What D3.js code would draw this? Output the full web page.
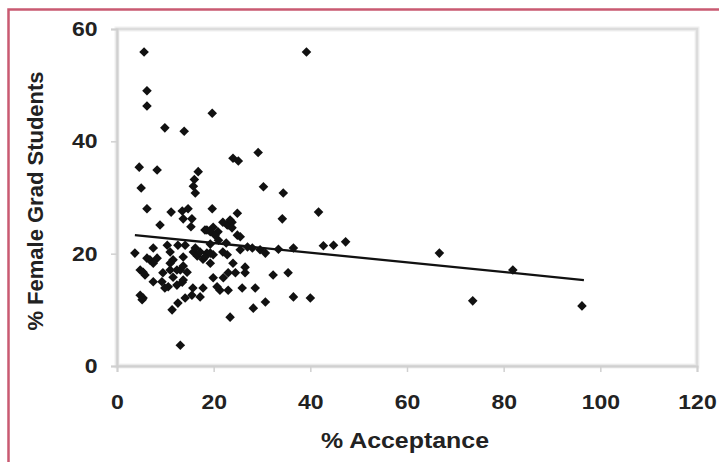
<!DOCTYPE html>
<html>
<head>
<meta charset="utf-8">
<script src="https://cdn.jsdelivr.net/npm/d3@7"></script>
<style>
  body { margin: 0; background: #fff; }
  svg { display: block; }
  .tick text { font-family: "Liberation Sans", Arial, sans-serif; font-weight: bold; font-size: 20px; fill: #222; }
  .title { font-family: "Liberation Sans", Arial, sans-serif; font-weight: bold; font-size: 22px; fill: #222; }
</style>
</head>
<body>
<div id="chart"></div>
<script>
// % acceptance (x) and % female grad students (y)
var acceptance = [5.6, 39.2, 6.2, 6.2, 9.9, 13.9, 19.7, 24.0, 25.1, 29.2,
  4.6, 8.3, 16.8, 16.0, 15.8, 16.2, 5.0, 30.3, 34.4, 6.2,
  11.2, 19.7, 24.9, 41.7, 34.2, 8.9, 13.5, 14.7, 13.7, 15.5,
  23.8, 23.0, 15.3, 18.2, 19.9, 20.9, 22.8, 23.8, 24.9, 25.5,
  21.9, 23.4, 3.7, 7.5, 6.2, 6.8, 8.3, 7.5, 11.0, 12.6,
  14.1, 10.4, 11.6, 13.7, 15.8, 16.6, 17.8, 19.3, 18.6, 19.9,
  16.2, 17.2, 18.2, 19.3, 21.9, 22.8, 25.5, 28.0, 29.6, 30.7,
  33.4, 36.5, 42.7, 44.8, 47.3, 66.7, 21.0, 22.6, 19.3, 20.3,
  18.6, 4.8, 5.8, 9.5, 11.0, 13.1, 7.5, 9.3, 10.6, 12.4,
  13.7, 4.8, 5.2, 11.4, 12.6, 14.1, 15.5, 17.2, 13.1, 23.4,
  21.3, 23.0, 20.7, 25.9, 28.6, 28.2, 30.7, 32.3, 35.4, 36.5,
  40.0, 26.5, 26.5, 24.0, 23.0, 22.0, 19.9, 11.0, 12.4, 11.6,
  13.7, 14.5, 13.5, 15.7, 17.8, 73.6, 81.9, 96.2, 9.9, 5.4,
  5.4, 24.5, 19.3, 27.0];
var female = [55.9, 55.9, 49.0, 46.3, 42.4, 41.8, 45.0, 37.0, 36.5, 38.0,
  35.4, 34.9, 34.6, 33.2, 32.0, 30.8, 31.7, 31.9, 30.8, 28.0,
  27.4, 28.0, 27.2, 27.4, 26.2, 25.1, 27.6, 28.0, 26.2, 26.2,
  25.6, 25.1, 24.8, 24.2, 24.7, 23.9, 25.1, 24.6, 23.3, 23.0,
  25.6, 26.0, 20.1, 21.0, 19.2, 18.9, 19.2, 18.3, 20.3, 21.5,
  21.5, 21.5, 18.9, 19.4, 20.3, 19.6, 19.0, 18.3, 20.1, 19.8,
  21.0, 20.3, 19.4, 20.1, 20.3, 19.8, 20.7, 21.0, 20.7, 20.1,
  20.8, 21.0, 21.4, 21.5, 22.1, 20.1, 22.4, 21.9, 23.9, 23.3,
  24.2, 17.1, 16.2, 16.6, 17.1, 17.1, 15.0, 15.0, 14.1, 14.4,
  15.3, 12.6, 11.8, 10.0, 11.2, 12.1, 12.6, 12.3, 3.7, 8.7,
  13.5, 13.5, 14.1, 13.9, 13.9, 10.3, 11.4, 16.2, 16.6, 12.3,
  12.1, 17.6, 16.6, 18.3, 16.6, 15.7, 15.7, 18.3, 17.1, 15.8,
  17.8, 16.7, 14.9, 13.9, 13.9, 11.6, 17.1, 10.7, 13.9, 12.1,
  16.7, 16.6, 21.7, 21.2];

// linear trend line: range of x and fitted coefficients
var trendX = [3.7, 96.6];
var trendIntercept = 23.62;
var trendSlope = -0.0861;

var xTicks = [0, 20, 40, 60, 80, 100, 120];
var yTicks = [0, 20, 40, 60];

var svgWidth = 719;
var svgHeight = 462;

var svg = d3.select("#chart")
  .append("svg")
  .attr("width", svgWidth)
  .attr("height", svgHeight);

svg.append("rect")
  .attr("width", svgWidth)
  .attr("height", svgHeight)
  .attr("fill", "#fff");

// pink frame round the figure (top and left only)
svg.append("path")
  .attr("d", "M8.5," + svgHeight + "V9.5H" + svgWidth)
  .attr("fill", "none")
  .attr("stroke", "#c95a71")
  .attr("stroke-width", 2.5);

var x = d3.scaleLinear().domain([0, 120]).range([117, 697]);
var y = d3.scaleLinear().domain([0, 60]).range([366, 29]);

// plot area border
svg.append("rect")
  .attr("x", x(0))
  .attr("y", y(60))
  .attr("width", x(120) - x(0))
  .attr("height", y(0) - y(60))
  .attr("fill", "none")
  .attr("stroke", "#f0f0f0")
  .attr("stroke-width", 5);
svg.append("rect")
  .attr("x", x(0))
  .attr("y", y(60))
  .attr("width", x(120) - x(0))
  .attr("height", y(0) - y(60))
  .attr("fill", "none")
  .attr("stroke", "#dcdcdc")
  .attr("stroke-width", 2.5);

var xAxis = svg.append("g")
  .attr("transform", "translate(0," + y(0) + ")")
  .call(d3.axisBottom(x).tickValues(xTicks).tickSize(6).tickPadding(23));
var yAxis = svg.append("g")
  .attr("transform", "translate(" + x(0) + ",0)")
  .call(d3.axisLeft(y).tickValues(yTicks).tickSize(6).tickPadding(11));

[xAxis, yAxis].forEach(function(a) {
  a.select(".domain").attr("stroke", "#d0d0d0").attr("stroke-width", 2);
  a.selectAll(".tick line").attr("stroke", "#d0d0d0").attr("stroke-width", 1.5);
  // the source lettering is a little wider than Arial
  a.selectAll(".tick text").attr("transform", "scale(1.15,1)");
});

// trend line
svg.append("line")
  .attr("x1", x(trendX[0]))
  .attr("y1", y(trendIntercept + trendSlope * trendX[0]))
  .attr("x2", x(trendX[1]))
  .attr("y2", y(trendIntercept + trendSlope * trendX[1]))
  .attr("stroke", "#111")
  .attr("stroke-width", 2.3);

// diamond markers
var diamond = d3.symbol().type(d3.symbolSquare).size(46);
svg.append("g").selectAll("path")
  .data(acceptance)
  .enter()
  .append("path")
  .attr("d", diamond)
  .attr("transform", function(d, i) {
    return "translate(" + x(d) + "," + y(female[i]) + ") rotate(45)";
  })
  .attr("fill", "#111");

// axis titles
svg.append("text")
  .attr("class", "title")
  .attr("x", 405)
  .attr("y", 448)
  .attr("text-anchor", "middle")
  .attr("textLength", 168)
  .attr("lengthAdjust", "spacingAndGlyphs")
  .text("% Acceptance");

svg.append("text")
  .attr("class", "title")
  .attr("transform", "translate(43," + 201 + ") rotate(-90)")
  .attr("text-anchor", "middle")
  .text("% Female Grad Students");
</script>
</body>
</html>
